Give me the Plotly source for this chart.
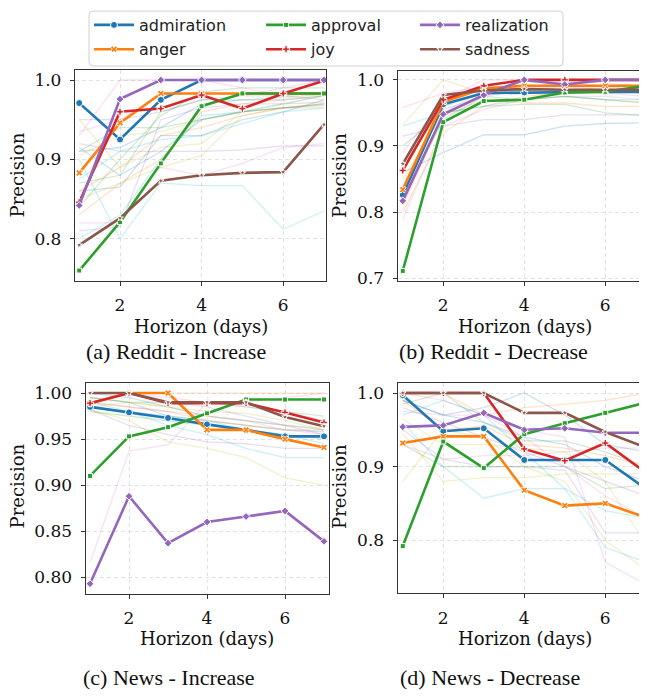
import plotly.graph_objects as go

# The page places the figure 8px in from the top-left corner (body margin),
# so all pixel positions below are screen positions shifted by OFF.
OFF = 8
W, H = 647 - OFF, 698 - OFF
horizon = [1, 2, 3, 4, 5, 6, 7]

emotions = ["admiration", "anger", "approval", "joy", "realization", "sadness"]
colors = ["#1f77b4", "#ff7f0e", "#2ca02c", "#d62728", "#9467bd", "#8c564b"]

# ---- highlighted series ----
reddit_inc = {
    "admiration": [0.971, 0.925, 0.975, 1.0, 1.0, 1.0, 1.0],
    "anger": [0.883, 0.946, 0.983, 0.983, 0.983, 0.983, 0.983],
    "approval": [0.760, 0.821, 0.895, 0.967, 0.983, 0.983, 0.983],
    "joy": [0.846, 0.960, 0.964, 0.981, 0.964, 0.983, 0.999],
    "realization": [0.842, 0.976, 1.0, 1.0, 1.0, 1.0, 1.0],
    "sadness": [0.792, 0.826, 0.873, 0.880, 0.883, 0.884, 0.944],
}
reddit_dec = {
    "admiration": [0.826, 0.963, 0.980, 0.981, 0.982, 0.982, 0.982],
    "anger": [0.834, 0.967, 0.987, 0.991, 0.991, 0.991, 0.991],
    "approval": [0.711, 0.936, 0.968, 0.970, 0.981, 0.982, 0.991],
    "joy": [0.863, 0.970, 0.991, 1.0, 1.0, 1.0, 1.0],
    "realization": [0.817, 0.948, 0.977, 1.0, 0.993, 1.0, 1.0],
    "sadness": [0.873, 0.977, 0.984, 0.986, 0.985, 0.985, 0.985],
}
news_inc = {
    "admiration": [0.985, 0.979, 0.973, 0.966, 0.960, 0.953, 0.953],
    "anger": [0.989, 1.0, 1.0, 0.960, 0.960, 0.950, 0.941],
    "approval": [0.910, 0.953, 0.963, 0.978, 0.993, 0.993, 0.993],
    "joy": [0.989, 1.0, 0.989, 0.989, 0.989, 0.979, 0.968],
    "realization": [0.793, 0.888, 0.837, 0.860, 0.866, 0.872, 0.839],
    "sadness": [1.0, 1.0, 0.990, 0.990, 0.990, 0.974, 0.964],
}
news_dec = {
    "admiration": [0.997, 0.948, 0.952, 0.909, 0.909, 0.909, 0.870],
    "anger": [0.932, 0.941, 0.941, 0.868, 0.847, 0.850, 0.831],
    "approval": [0.792, 0.934, 0.898, 0.944, 0.959, 0.973, 0.987],
    "joy": [1.0, 1.0, 1.0, 0.924, 0.908, 0.932, 0.892],
    "realization": [0.954, 0.956, 0.973, 0.950, 0.952, 0.946, 0.946],
    "sadness": [1.0, 1.0, 1.0, 0.973, 0.973, 0.947, 0.926],
}

# ---- faint background series (other emotions) ----
faint_cols = ["#e377c2", "#bcbd22", "#17becf", "#9467bd", "#2ca02c", "#1f77b4", "#ff7f0e"]

reddit_inc_bg = [
    [0.93, 1.0, 1.0, 1.0, 0.99, 0.98, 0.975],
    [0.95, 0.89, 0.915, 0.92, 0.96, 0.965, 0.965],
    [0.90, 0.80, 0.87, 0.867, 0.867, 0.812, 0.835],
    [0.92, 0.91, 0.91, 0.91, 0.912, 0.917, 0.917],
    [0.91, 0.94, 0.94, 0.95, 0.96, 0.965, 0.97],
    [0.86, 0.865, 0.93, 0.93, 0.95, 0.96, 0.975],
    [0.83, 0.87, 0.90, 0.96, 0.97, 0.975, 0.98],
    [0.82, 0.82, 0.89, 0.88, 0.895, 0.915, 0.92],
    [0.85, 0.87, 0.89, 0.905, 0.955, 0.965, 0.97],
    [0.80, 0.83, 0.90, 0.955, 0.96, 0.97, 0.98],
    [0.81, 0.815, 0.95, 0.965, 0.97, 0.97, 0.972],
    [0.84, 0.90, 0.955, 0.985, 0.99, 0.99, 0.99],
    [0.91, 0.915, 0.94, 0.97, 0.975, 0.975, 0.98],
    [0.86, 0.89, 0.93, 0.94, 0.955, 0.965, 0.97],
    [0.935, 0.95, 0.98, 0.985, 0.98, 0.99, 1.0],
    [0.905, 0.93, 0.935, 0.95, 0.96, 0.97, 0.98],
    [0.875, 0.91, 0.925, 0.93, 0.945, 0.96, 0.965],
    [0.95, 0.95, 0.96, 0.975, 0.98, 0.98, 0.985],
    [0.87, 0.88, 0.96, 0.975, 0.975, 0.978, 0.982],
    [0.915, 0.88, 0.91, 0.95, 0.96, 0.965, 0.968],
]
reddit_dec_bg = [
    [0.958, 0.98, 0.99, 0.99, 0.985, 0.98, 0.975],
    [0.932, 1.0, 0.98, 0.98, 0.975, 0.97, 0.965],
    [0.93, 0.95, 0.96, 0.97, 0.975, 0.97, 0.97],
    [0.915, 0.93, 0.94, 0.94, 0.947, 0.947, 0.947],
    [0.90, 0.95, 0.96, 0.963, 0.963, 0.95, 0.946],
    [0.86, 0.89, 0.917, 0.917, 0.93, 0.934, 0.935],
    [0.80, 0.92, 0.96, 0.975, 0.98, 0.98, 0.98],
    [0.79, 0.93, 0.955, 0.97, 0.975, 0.975, 0.97],
    [0.85, 0.95, 0.985, 0.995, 1.0, 0.995, 0.99],
    [0.87, 0.96, 0.99, 0.99, 0.995, 0.99, 0.985],
    [0.84, 0.955, 0.975, 0.985, 0.99, 0.985, 0.98],
    [0.82, 0.94, 0.975, 0.97, 0.975, 0.97, 0.965],
    [0.83, 0.96, 0.98, 0.985, 0.985, 0.98, 0.98],
    [0.81, 0.945, 0.97, 0.965, 0.965, 0.96, 0.96],
    [0.89, 0.97, 1.0, 1.0, 1.0, 1.0, 1.0],
    [0.86, 0.965, 0.98, 0.98, 0.985, 0.99, 0.99],
]
news_inc_bg = [
    [0.816, 0.937, 0.944, 0.99, 0.99, 0.995, 1.0],
    [0.982, 0.97, 0.947, 0.94, 0.93, 0.908, 0.90],
    [0.99, 0.98, 0.965, 0.955, 0.94, 0.93, 0.93],
    [0.982, 0.965, 0.955, 0.947, 0.945, 0.94, 0.94],
    [0.995, 0.99, 0.99, 0.99, 0.985, 0.98, 0.975],
    [1.0, 0.995, 0.985, 0.975, 0.97, 0.965, 0.96],
    [1.0, 1.0, 1.0, 1.0, 1.0, 1.0, 1.0],
    [0.99, 0.985, 0.98, 0.975, 0.97, 0.96, 0.955],
    [0.995, 0.99, 0.985, 0.98, 0.978, 0.97, 0.96],
    [0.985, 0.98, 0.975, 0.97, 0.96, 0.955, 0.945],
    [0.99, 1.0, 0.99, 0.985, 0.975, 0.965, 0.955],
    [0.98, 0.975, 0.97, 0.965, 0.96, 0.955, 0.95],
    [0.995, 0.99, 0.975, 0.97, 0.965, 0.96, 0.958],
    [0.99, 0.985, 0.98, 0.97, 0.965, 0.96, 0.96],
    [1.0, 1.0, 0.995, 0.99, 0.985, 0.98, 0.97],
    [0.985, 0.99, 0.985, 0.975, 0.97, 0.965, 0.962],
]
news_dec_bg = [
    [0.975, 0.97, 0.97, 0.95, 0.94, 0.77, 0.74],
    [0.88, 0.95, 0.94, 0.90, 0.88, 0.80, 0.76],
    [0.97, 0.99, 0.97, 0.92, 0.87, 0.79, 0.77],
    [0.95, 0.91, 0.90, 0.90, 0.895, 0.81, 0.81],
    [0.93, 0.90, 0.90, 0.90, 0.90, 0.87, 0.875],
    [0.99, 0.97, 0.98, 1.0, 0.97, 0.93, 0.92],
    [1.0, 1.0, 0.97, 0.98, 0.985, 0.99, 1.0],
    [0.93, 0.91, 0.915, 0.915, 0.92, 0.925, 0.925],
    [0.945, 0.88, 0.885, 0.885, 0.89, 0.89, 0.89],
    [0.96, 0.90, 0.857, 0.87, 0.87, 0.84, 0.83],
    [0.98, 0.96, 0.94, 0.92, 0.90, 0.88, 0.86],
    [0.985, 1.0, 0.96, 0.935, 0.935, 0.92, 0.90],
    [0.99, 0.97, 0.96, 0.94, 0.93, 0.90, 0.88],
    [0.99, 0.95, 0.955, 0.93, 0.925, 0.915, 0.90],
    [1.0, 0.99, 0.97, 0.94, 0.90, 0.86, 0.83],
    [0.965, 0.93, 0.93, 0.925, 0.92, 0.88, 0.795],
]

captions = ["(a) Reddit - Increase", "(b) Reddit - Decrease",
            "(c) News - Increase", "(d) News - Decrease"]

# ---- layout geometry (screen pixels of the reference) ----
panels = [
    dict(data=reddit_inc, bg=reddit_inc_bg, px=(75, 326), py=(65, 280),
         xr=[0.897, 7.049], yr=[0.747, 1.0127], yt=[0.8, 0.9, 1.0], fmt=".1f",
         right=True, cap=(176, 352), ytit=(17.5, 172), xtit=(201, 326)),
    dict(data=reddit_dec, bg=reddit_dec_bg, px=(397.7, 647), py=(65.7, 280),
         xr=[0.875, 7.03], yr=[0.696, 1.014], yt=[0.7, 0.8, 0.9, 1.0], fmt=".1f",
         right=False, cap=(493, 352), ytit=(340, 172), xtit=(525, 326)),
    dict(data=news_inc, bg=news_inc_bg, px=(85.7, 329), py=(384.3, 599),
         xr=[0.889, 7.128], yr=[0.782, 1.0107], yt=[0.80, 0.85, 0.90, 0.95, 1.00], fmt=".2f",
         right=True, cap=(169, 684), ytit=(17.5, 489), xtit=(207, 645)),
    dict(data=news_dec, bg=news_dec_bg, px=(397.7, 647), py=(384.3, 598.3),
         xr=[0.875, 7.03], yr=[0.728, 1.0133], yt=[0.8, 0.9, 1.0], fmt=".1f",
         right=False, cap=(490, 684), ytit=(340, 489), xtit=(524.5, 645)),
]

symbols = {
    "admiration": dict(symbol="circle", size=7, color=colors[0], line=dict(color="white", width=1)),
    "anger": dict(symbol="x", size=6, color=colors[1], line=dict(color="white", width=1)),
    "approval": dict(symbol="square", size=5, color=colors[2], line=dict(color="white", width=1)),
    "joy": dict(symbol="cross", size=6, color=colors[3], line=dict(color="white", width=1)),
    "realization": dict(symbol="diamond", size=6, color=colors[4], line=dict(color="white", width=1)),
    "sadness": dict(symbol="star", size=5, color=colors[5], line=dict(color="white", width=1)),
}
legend_pos = {  # (x of legend block left, y center) in screen pixels
    "admiration": (89, 19), "anger": (89, 44),
    "approval": (261, 19), "joy": (261, 44),
    "realization": (415, 19), "sadness": (415, 44),
}

def fx(px):
    return (px - OFF) / W

def fy(py):
    return 1 - (py - OFF) / H

fig = go.Figure()
FONT = "DejaVu Serif"

def rgba(hexc, a):
    h = hexc.lstrip("#")
    return "rgba(%d,%d,%d,%.2f)" % (int(h[0:2], 16), int(h[2:4], 16), int(h[4:6], 16), a)

annotations = []
layout_axes = {}
for i, p in enumerate(panels):
    k = "" if i == 0 else str(i + 1)
    xa, ya = "x" + k, "y" + k
    for j, ys in enumerate(p["bg"]):
        fig.add_trace(go.Scatter(x=horizon, y=ys, mode="lines", xaxis=xa, yaxis=ya,
                                 line=dict(color=rgba(faint_cols[j % len(faint_cols)], 0.22), width=1.3),
                                 showlegend=False, hoverinfo="skip"))
    for e_i, e in enumerate(emotions):
        lg = "legend" if e_i == 0 else "legend%d" % (e_i + 1)
        fig.add_trace(go.Scatter(x=horizon, y=p["data"][e], mode="lines+markers", name=e,
                                 xaxis=xa, yaxis=ya, legend=lg,
                                 line=dict(color=colors[e_i], width=2.6),
                                 marker=symbols[e], showlegend=(i == 0)))
    x0, x1 = p["px"]
    y0, y1 = p["py"]
    layout_axes["xaxis" + k] = dict(
        domain=[max(0, fx(x0)), min(1, fx(x1))], range=p["xr"], anchor=ya,
        tickvals=[2, 4, 6], ticks="outside", ticklen=4, tickwidth=1, tickcolor="#333",
        showline=True, linecolor="#333", linewidth=1.3, mirror=True,
        showgrid=True, gridcolor="#e2e2e2", griddash="4px,3px", gridwidth=0.8,
        zeroline=False, tickfont=dict(family=FONT, size=17, color="#111"),
        ticklabelstandoff=5,
    )
    layout_axes["yaxis" + k] = dict(
        domain=[fy(y1), fy(y0)], range=p["yr"], anchor=xa,
        tickvals=p["yt"], tickformat=p["fmt"], ticks="outside", ticklen=4, tickwidth=1,
        tickcolor="#333", showline=True, linecolor="#333", linewidth=1.3,
        mirror=p["right"], showgrid=True, gridcolor="#e2e2e2", griddash="4px,3px",
        gridwidth=0.8, zeroline=False, tickfont=dict(family=FONT, size=17, color="#111"),
        ticklabelstandoff=5,
    )
    annotations.append(dict(text="Precision", x=fx(p["ytit"][0]), y=fy(p["ytit"][1]),
                            xref="paper", yref="paper", showarrow=False, textangle=-90,
                            font=dict(family=FONT, size=18, color="#111"),
                            xanchor="center", yanchor="middle"))
    annotations.append(dict(text="Horizon (days)", x=fx(p["xtit"][0]), y=fy(p["xtit"][1]),
                            xref="paper", yref="paper", showarrow=False,
                            font=dict(family=FONT, size=18, color="#111"),
                            xanchor="center", yanchor="middle"))
    annotations.append(dict(text=captions[i], x=fx(p["cap"][0]), y=fy(p["cap"][1]),
                            xref="paper", yref="paper", showarrow=False,
                            font=dict(family="Liberation Serif", size=22, color="#111"),
                            xanchor="center", yanchor="middle"))

legends = {}
for e_i, e in enumerate(emotions):
    lg = "legend" if e_i == 0 else "legend%d" % (e_i + 1)
    lx, ly = legend_pos[e]
    legends[lg] = dict(x=fx(lx), y=fy(ly), xanchor="left", yanchor="middle",
                       bgcolor="rgba(0,0,0,0)", borderwidth=0, itemwidth=40,
                       font=dict(family="DejaVu Sans", size=16, color="#222"))

# rounded legend frame
bx0, bx1, by0, by1, r = 89, 563, 5, 61, 4
path = ("M{a},{b} L{c},{b} Q{d},{b} {d},{e} L{d},{f} Q{d},{g} {c},{g} "
        "L{a},{g} Q{h},{g} {h},{f} L{h},{e} Q{h},{b} {a},{b} Z").format(
    a=fx(bx0 + r), b=fy(by0), c=fx(bx1 - r), d=fx(bx1),
    e=fy(by0 + r), f=fy(by1 - r), g=fy(by1), h=fx(bx0))

fig.update_layout(
    width=W, height=H, margin=dict(l=0, r=0, t=0, b=0),
    paper_bgcolor="white", plot_bgcolor="white",
    annotations=annotations,
    shapes=[dict(type="path", path=path, xref="paper", yref="paper",
                 line=dict(color="#d0d0d0", width=1), fillcolor="rgba(255,255,255,0.8)",
                 layer="below")],
    **layout_axes, **legends,
)

fig.write_html("out.html")
